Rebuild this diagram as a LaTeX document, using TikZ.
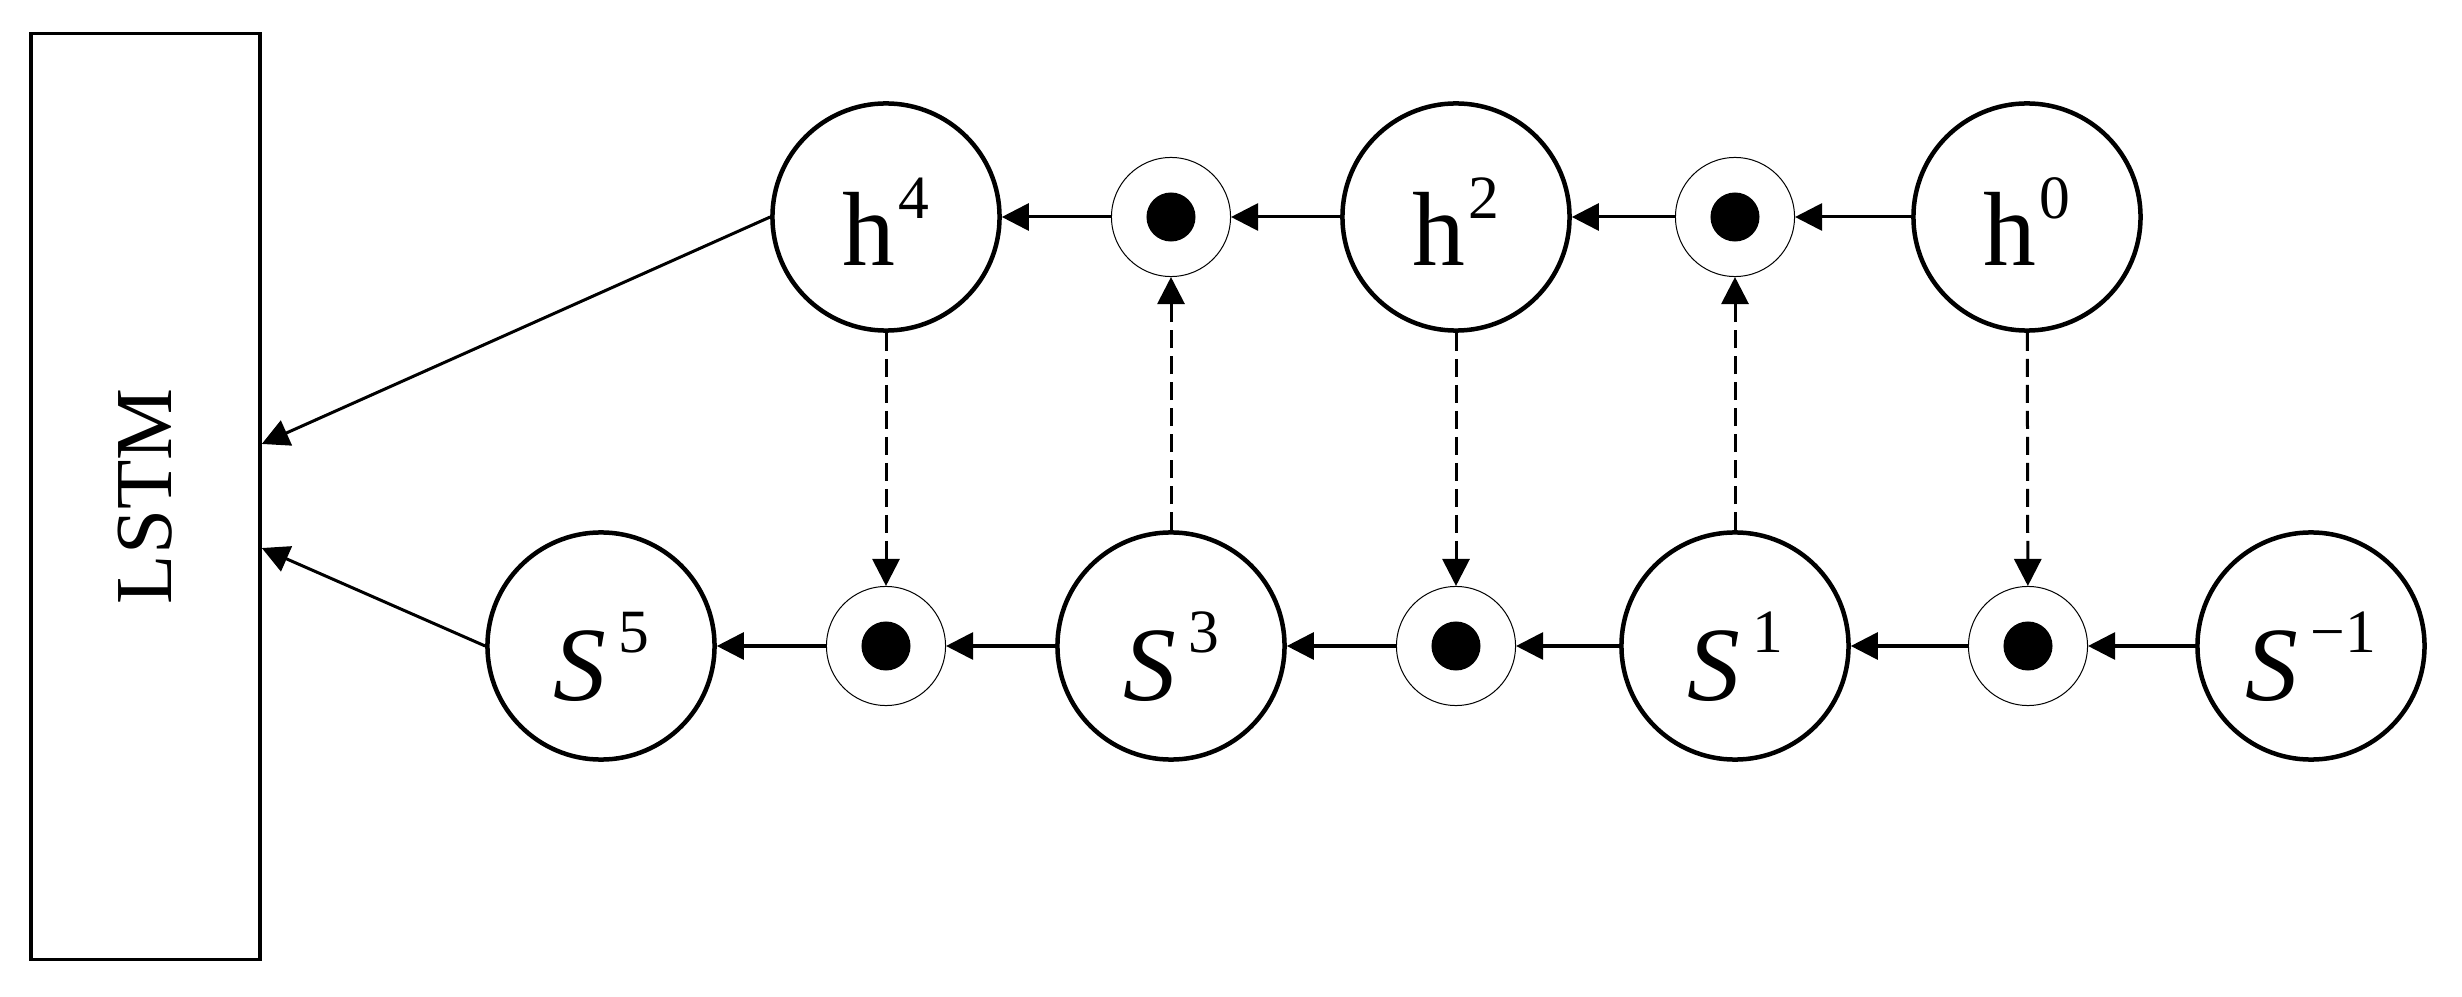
\documentclass[tikz,border=0pt]{standalone}
\usepackage{fontspec}
\setmainfont{Liberation Serif}
\usetikzlibrary{arrows.meta}
\newcommand\hsupr[2]{#1\kern1pt\raisebox{13.4pt}{\fontsize{17.5}{20}\selectfont #2}}
\newcommand\ssupr[1]{\textit{S}\kern3.5pt\raisebox{13.7pt}{\fontsize{17.5}{20}\selectfont #1}}
\begin{document}
\begin{tikzpicture}[x=0.01cm,y=-0.01cm,
  big/.style={circle,draw,line width=0.045cm,minimum size=2.27cm,inner sep=0pt,font=\fontsize{30}{36}\selectfont},
  hlab/.style={text height=27.4pt,text depth=0pt},
  slab/.style={text height=31pt,text depth=0pt},
  dotn/.style={circle,draw,line width=0.01cm,minimum size=1.19cm,inner sep=0pt,
    path picture={\fill (path picture bounding box.center) circle (0.245cm);}},
  arr/.style={line width=0.03cm,-{Triangle[length=0.27cm,width=0.27cm]}},
  darr/.style={arr,dash pattern=on 0.18cm off 0.08cm},
  boxn/.style={rectangle,draw,line width=0.035cm,minimum width=2.29cm,minimum height=9.25cm,inner sep=0pt}]
\useasboundingbox (0,0) rectangle (2462,997);
% LSTM box
\node[boxn] (lstm) at (145.5,496.5) {};
\node[rotate=90,font=\fontsize{23}{28}\selectfont] (lstmtxt) at (145.5,496.5) {LSTM};
% top row
\node[big,hlab] (h4) at (886,217) {\hsupr{h}{4}};
\node[dotn] (t1) at (1171,217) {};
\node[big,hlab] (h2) at (1456,217) {\hsupr{h}{2}};
\node[dotn] (t2) at (1735,217) {};
\node[big,hlab] (h0) at (2027,217) {\hsupr{h}{0}};
% bottom row
\node[big,slab] (s5) at (601,646) {\ssupr{5}};
\node[dotn] (b1) at (886,646) {};
\node[big,slab] (s3) at (1171,646) {\ssupr{3}};
\node[dotn] (b2) at (1456,646) {};
\node[big,slab] (s1) at (1735,646) {\ssupr{1}};
\node[dotn] (b3) at (2028,646) {};
\node[big,slab] (sm1) at (2311,646) {\ssupr{\char"2212 1}};
% horizontal arrows
\draw[arr] (h0) -- (t2);
\draw[arr] (t2) -- (h2);
\draw[arr] (h2) -- (t1);
\draw[arr] (t1) -- (h4);
\draw[arr] (sm1) -- (b3);
\draw[arr] (b3) -- (s1);
\draw[arr] (s1) -- (b2);
\draw[arr] (b2) -- (s3);
\draw[arr] (s3) -- (b1);
\draw[arr] (b1) -- (s5);
% dashed vertical arrows
\draw[darr] (h4) -- (b1);
\draw[darr] (h2) -- (b2);
\draw[darr] (h0) -- (b3);
\draw[darr] (s3) -- (t1);
\draw[darr] (s1) -- (t2);
% into LSTM
\draw[arr] (h4.west) -- ([yshift=0.525cm]lstm.east);
\draw[arr] (s5.west) -- ([yshift=-0.515cm]lstm.east);
\end{tikzpicture}
\end{document}
